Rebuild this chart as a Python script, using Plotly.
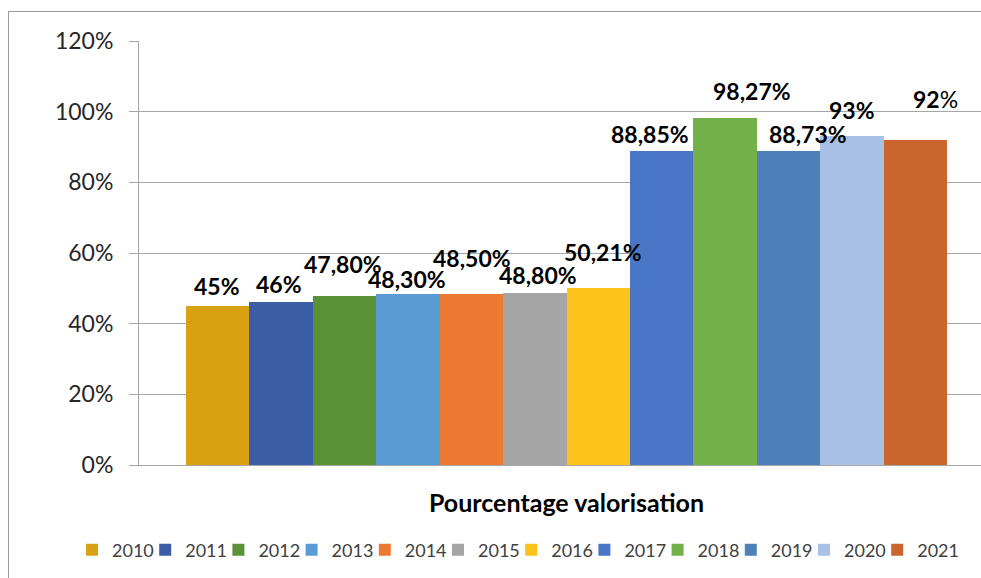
import plotly.graph_objects as go

# ---- data ----
category = ["Pourcentage valorisation"]
years = ["2010", "2011", "2012", "2013", "2014", "2015",
         "2016", "2017", "2018", "2019", "2020", "2021"]
values = [45.00, 46.00, 47.80, 48.30, 48.50, 48.80,
          50.21, 88.85, 98.27, 88.73, 93.00, 92.00]
value_labels = ["45%", "46%", "47,80%", "48,30%", "48,50%", "48,80%",
                "50,21%", "88,85%", "98,27%", "88,73%", "93%", "92%"]
y_ticks = [0, 0.2, 0.4, 0.6, 0.8, 1.0, 1.2]

# ---- styles ----
colors = ["#d8a214", "#3a5da6", "#5a9238", "#5b9bd5", "#ec7a33", "#a5a5a5",
          "#fdc31a", "#4a76c8", "#72b04a", "#4d80b8", "#a9c1e5", "#c9652d"]
# label placement (pixel shifts relative to bar top centre)
label_dx = [-1, -2, -2, -1, 1, 3, 5, -12, 27, 20, 0, 20]
label_dy = [20, 18, 32, 15, 36, 18, 36, 17, 27, 17, 26, 41]

FONT = "Lato"
GRID = "#a6a6a6"
LEG_FONT = dict(family=FONT, size=18, color="#404040")
PLOT_L, PLOT_W = 139, 842          # plot area left edge / width in px
LEG_START, LEG_STEP = 72, 73.2     # legend entry start / spacing in px

fig = go.Figure()
n = len(values)
legend_layout = {}
for i, (yr, v, c) in enumerate(zip(years, values, colors)):
    key = "legend" if i == 0 else f"legend{i + 1}"
    fig.add_trace(go.Bar(
        name=yr, x=category, y=[v / 100], marker=dict(color=c, line=dict(width=0)),
        hoverinfo="name+y", legend=key,
    ))
    legend_layout[key] = dict(
        orientation="h", xanchor="left", yanchor="middle", y=-0.2005,
        x=(LEG_START + i * LEG_STEP - PLOT_L) / PLOT_W,
        font=LEG_FONT, itemsizing="constant",
        bgcolor="rgba(0,0,0,0)", borderwidth=0,
    )

for i, (v, lab) in enumerate(zip(values, value_labels)):
    txt = "<b>" + lab + "</b>"
    if i == n - 1:
        txt = "<b>" + lab[:-1] + "</b>" + lab[-1]
    fig.add_annotation(
        x=-0.5 + (i + 0.5) / n, y=v / 100, xref="x", yref="y",
        text=txt, showarrow=False, yanchor="middle", xanchor="center",
        xshift=label_dx[i], yshift=label_dy[i],
        font=dict(family=FONT, size=23, color="#000000"),
    )

# outer chart border (only left and top visible in the crop)
fig.add_shape(type="rect", xref="paper", yref="paper",
              x0=-0.155, x1=1.3, y0=-0.6, y1=1.0696,
              line=dict(color="#999999", width=1), fillcolor="rgba(0,0,0,0)",
              layer="below")
# small boundary tick below the category axis at the left edge
fig.add_shape(type="line", xref="x domain", x0=0, x1=0,
              yref="y", ysizemode="pixel", yanchor=0, y0=0, y1=-8,
              line=dict(color=GRID, width=1))

fig.update_layout(
    width=981, height=578,
    margin=dict(l=PLOT_L, r=0, t=41, b=113),
    paper_bgcolor="white", plot_bgcolor="white",
    barmode="group", bargap=0, bargroupgap=0,
    showlegend=True,
    font=dict(family=FONT),
    **legend_layout,
)

fig.update_xaxes(
    type="category",
    range=[-0.5618, 0.5447],
    showline=True, linecolor=GRID, linewidth=1,
    ticks="", showgrid=False,
    tickfont=dict(family=FONT, size=25, color="#000000"),
    tickprefix="<b>", ticksuffix="</b>",
    ticklabelstandoff=16,
)
fig.update_yaxes(
    range=[0, 1.2], tickvals=y_ticks, tickformat=".0%",
    showgrid=True, gridcolor=GRID, gridwidth=1,
    showline=True, linecolor=GRID, linewidth=1,
    ticks="outside", ticklen=9, tickcolor=GRID, tickwidth=1,
    zeroline=False,
    tickfont=dict(family=FONT, size=23, color="#262626"),
    ticklabelstandoff=11,
)

fig.write_html(
    "out.html",
    config={"displayModeBar": False},
    post_script="document.body.style.margin='0';document.body.style.overflow='hidden';",
)
